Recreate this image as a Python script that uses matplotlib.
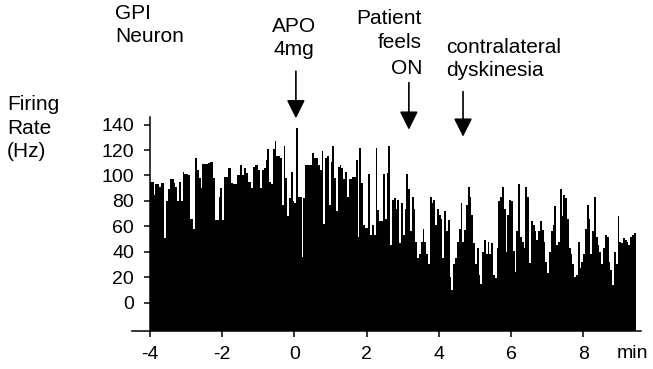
import numpy as np
import matplotlib
matplotlib.use('Agg')
import matplotlib.pyplot as plt

plt.rcParams['font.family'] = ['Liberation Sans', 'DejaVu Sans']
plt.rcParams['axes.unicode_minus'] = False

# firing rate (Hz) in 3 s bins, starting at -4 min
rate_a = [95, 95, 85, 93, 93, 91, 94, 94, 51, 80, 89, 97, 97, 94, 91, 80, 95, 80, 103, 101,
          101, 100, 66, 66, 58, 114, 104, 98, 90, 109, 109, 109, 110, 111, 111, 98, 65, 65, 83, 90,
          65, 99, 99]
rate_b = [106, 106, 94, 93, 93, 100, 100, 108, 100, 106, 102, 95, 95, 90, 107, 108, 108, 104, 90, 104,
          106, 112, 121, 95, 93, 121, 127, 115, 115, 114, 77, 123, 98, 68, 82, 103, 80, 78, 137, 83,
          83, 36, 82, 108, 108, 108]
rate_c = [108, 118, 114, 114, 108, 104, 119, 62, 114, 115, 77, 111, 123, 98, 72, 107, 108, 106, 97, 103,
          83, 97, 97, 99, 99, 112, 52, 122, 94, 61, 59, 59, 101, 53, 61, 53, 122, 73, 64, 64,
          101, 66, 102, 123, 45, 81]
rate_d = [82, 74, 81, 47, 78, 53, 74, 101, 89, 56, 83, 74, 48, 35, 38, 48, 58, 48, 38, 30,
          83, 78, 81, 61, 74, 69, 66, 35, 72, 56, 65, 20, 10, 30, 35, 48, 58, 78, 48, 57,
          77, 91, 83, 69, 47, 30]
rate_e = [43, 22, 15, 40, 49, 38, 48, 38, 47, 22, 19, 43, 80, 83, 91, 74, 40, 69, 81, 80,
          41, 24, 56, 93, 52, 48, 43, 91, 83, 31, 64, 61, 56, 49, 56, 64, 57, 48, 32, 23,
          40, 56, 61, 76, 45, 48]
rate_f = [89, 68, 85, 82, 66, 43, 38, 30, 20, 22, 48, 27, 32, 38, 58, 77, 66, 38, 56, 83,
          52, 45, 40, 30, 43, 53, 52, 32, 26, 14, 40, 30, 68, 48, 47, 51, 49, 48, 45, 52,
          53, 55]
rate = np.array(rate_a + rate_b + rate_c + rate_d + rate_e + rate_f)

t_start = -4.0
bin_min = 0.05
x_ticks = [-4, -2, 0, 2, 4, 6, 8]
y_ticks = [0, 20, 40, 60, 80, 100, 120, 140]

# events (min) and their labels
ev_time = [0.04, 3.17, 4.67]
ev_label = ['APO\n4mg', 'Patient\nfeels\nON', 'contralateral\ndyskinesia']

W, H = 653, 369
fig = plt.figure(figsize=(W / 100, H / 100), dpi=100)
ax = fig.add_axes([132 / W, 1 - 331 / H, (641 - 132) / W, (331 - 117) / H])

edges = t_start + bin_min * np.arange(len(rate) + 1)
ymin = -22.3
ax.stairs(rate, edges, baseline=ymin, fill=True, color='black')

ax.set_xlim(-4.5, 9.6)
ax.set_ylim(ymin, 146)
ax.spines['top'].set_visible(False)
ax.spines['right'].set_visible(False)
ax.spines['left'].set_position(('data', -4))
ax.spines['left'].set_linewidth(1.1)
ax.spines['bottom'].set_linewidth(1.1)
ax.set_xticks(x_ticks)
ax.set_yticks(y_ticks)
ax.tick_params(axis='both', direction='out', length=4.5, width=1.1, labelsize=14)
ax.tick_params(axis='x', pad=6)
ax.tick_params(axis='y', pad=7)

# arrows
arrow_top = [182, 173, 166]
arrow_tip = [145, 136, 130.5]
for t, y0, y1 in zip(ev_time, arrow_top, arrow_tip):
    ax.annotate('', xy=(t, y1), xytext=(t, y0), annotation_clip=False,
                arrowprops=dict(arrowstyle='-|>,head_length=0.7,head_width=0.35',
                                mutation_scale=16, lw=1.2, color='black',
                                shrinkA=0, shrinkB=0))

def px(x, y):
    return x / W, 1 - y / H

fs = 15
fig.text(*px(115, 25), 'GPI\nNeuron', fontsize=fs, ha='left', va='center', linespacing=1.3)
fig.text(*px(7, 128), 'Firing\nRate\n(Hz)', fontsize=fs, ha='left', va='center', linespacing=1.3)
fig.text(*px(294, 38), ev_label[0], fontsize=fs, ha='center', va='center', linespacing=1.3)
fig.text(*px(422, 43), ev_label[1], fontsize=fs, ha='right', va='center', linespacing=1.4)
fig.text(*px(446, 59), ev_label[2], fontsize=fs, ha='left', va='center', linespacing=1.3)
fig.text(*px(632, 354), 'min', fontsize=14, ha='center', va='center')

fig.savefig('out.png', dpi=100)
